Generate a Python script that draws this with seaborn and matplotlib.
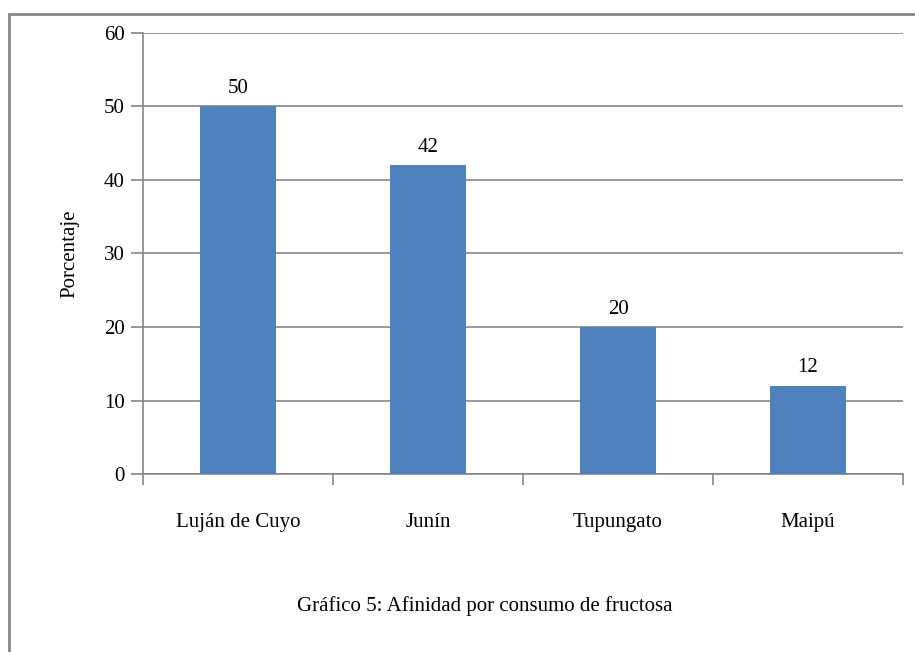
import matplotlib
matplotlib.use("Agg")
import matplotlib.pyplot as plt
import seaborn as sns
import pandas as pd
from matplotlib.patches import Rectangle

# data
zonas = ["Luján de Cuyo", "Junín", "Tupungato", "Maipú"]
porcentaje = [50, 42, 20, 12]
yticks = [0, 10, 20, 30, 40, 50, 60]

df = pd.DataFrame({"Zona": zonas, "Porcentaje": porcentaje})

sns.set_style("white")
plt.rcParams["font.family"] = ["Liberation Serif", "DejaVu Serif"]
plt.rcParams["text.color"] = "black"
plt.rcParams["axes.labelcolor"] = "black"
plt.rcParams["xtick.labelcolor"] = "black"
plt.rcParams["ytick.labelcolor"] = "black"

grey = "#868686"
fig = plt.figure(figsize=(9.15, 6.52), dpi=100)
ax = fig.add_axes([0.1563, 0.273, 0.8306, 0.6764])

sns.barplot(data=df, x="Zona", y="Porcentaje", color="#4F81BD",
            saturation=1, width=0.4, ax=ax, zorder=3, edgecolor="none",
            linewidth=0)

ax.set_ylim(0, 60)
ax.set_xlim(-0.5, len(zonas) - 0.5)
ax.set_yticks(yticks)
ax.yaxis.grid(True, color=grey, linewidth=1.2, zorder=0)
ax.set_axisbelow(True)

for s in ["top", "right"]:
    ax.spines[s].set_visible(False)
for s in ["left", "bottom"]:
    ax.spines[s].set_color(grey)
    ax.spines[s].set_linewidth(1.2)

ax.tick_params(axis="y", direction="out", length=9, width=1.2, color=grey,
               labelsize=15, pad=4, left=True)
# category boundary ticks on x
ax.set_xticks(range(len(zonas)))
ax.set_xticklabels(zonas, fontsize=15)
ax.tick_params(axis="x", length=0, pad=28)
ax.set_xticks([i - 0.5 for i in range(len(zonas) + 1)], minor=True)
ax.tick_params(axis="x", which="minor", direction="out", length=8,
               width=1.2, color=grey, bottom=True)

ax.set_xlabel("")
ax.set_ylabel("Porcentaje", fontsize=15, labelpad=18)

for i, v in enumerate(porcentaje):
    ax.annotate(str(v), (i, v), xytext=(0, 6), textcoords="offset points",
                ha="center", va="bottom", fontsize=15)

fig.text(0.53, 0.07, "Gráfico 5: Afinidad por consumo de fructosa",
         ha="center", va="center", fontsize=15)

# outer frame of the chart object
fig.patches.append(Rectangle((9 / 915, -0.05), 1.2, 1.05 - 14 / 652,
                             transform=fig.transFigure, fill=False,
                             edgecolor=grey, linewidth=2))

fig.savefig("out.png", dpi=100)
